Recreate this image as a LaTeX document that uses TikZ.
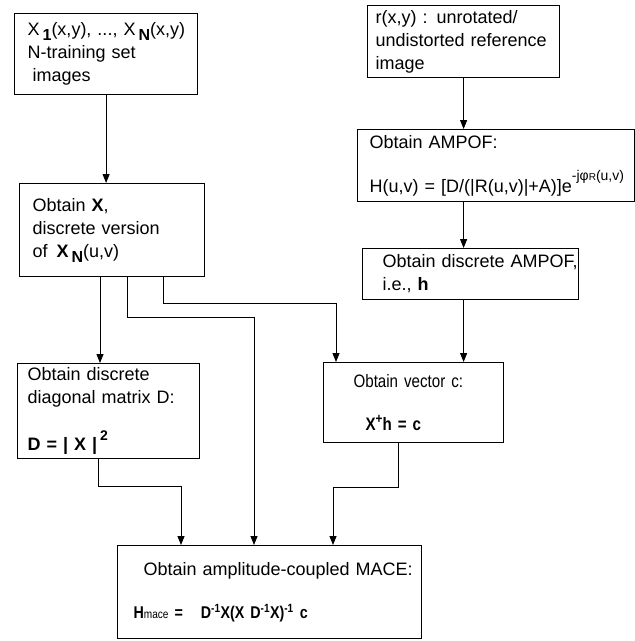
\documentclass[tikz,border=0pt]{standalone}
\usepackage{fontspec}
\setmainfont{Liberation Sans}
\newfontfamily\narrowfont[FakeStretch=0.84]{Liberation Sans}
\usetikzlibrary{arrows.meta}
\def\lo#1{\raisebox{-5pt}{\fontsize{16}{16}\selectfont #1}}
\def\hi#1#2{\raisebox{#1pt}{\fontsize{14}{14}\selectfont #2}}

\tikzset{
  box/.style={draw, line width=1.2pt, rectangle, anchor=north west, align=left,
              inner ysep=4pt, font=\fontsize{18}{23}\selectfont},
  flow/.style={line width=0.8pt, -{Triangle[length=9pt,width=7pt]}},
}

\begin{document}
\begin{tikzpicture}[x=1pt,y=-1pt]
\useasboundingbox (0,0) rectangle (635,641);
       \node [box, minimum width=183pt, minimum height=81pt, text width=157pt, inner xsep=13pt] at (14,13) (train)
             {\mbox{X\,\lo{\textbf{1}}(x,y), ..., X\,\lo{\textbf{N}}(x,y)}\\N-training set\\\hspace*{5pt}images};
          \node [box, minimum width=185pt, minimum height=93pt, text width=159pt, inner xsep=13pt] at (19,183) (xver)
             {Obtain \textbf{X},\\discrete version\\of \,\textbf{X\,\lo{N}}(u,v)};
             \node [box, minimum width=182pt, minimum height=93pt, text width=162pt, inner xsep=10pt] at (17,363) (diag)
             {Obtain discrete\\diagonal matrix D:\\[22pt]\textbf{D = | X |}\,\hi{10}{\textbf{2}}};
%
                \node [box, minimum width=192pt, minimum height=72pt, text width=176pt, inner xsep=8pt] at (367,5) (ref)
             {r(x,y) : unrotated/\\\mbox{undistorted reference}\\image};
                \node [box, minimum width=277pt, minimum height=72pt, text width=253pt, inner xsep=12pt] at (357,129) (ampof)
             {Obtain AMPOF:\\[21pt]\mbox{H(u,v) = [D/(|R(u,v)|+A)]e\hi{12}{-jφ{\fontsize{10}{10}\selectfont R}(u,v)}}};
                  \node [box, minimum width=216pt, minimum height=51pt, text width=176pt, inner xsep=20pt] at (362,248) (dampof)
             {\mbox{Obtain discrete AMPOF,}\\i.e., \textbf{h}};
                   \node [box, minimum width=180pt, minimum height=80pt, text width=156pt, inner xsep=12pt] at (323,362) (vecc)
             {\narrowfont\hspace*{18pt}Obtain vector c:\\[20pt]\hspace*{30pt}\textbf{X\hi{7}{+}h = c}};
%
             \node [box, minimum width=304pt, minimum height=93pt, text width=272pt, inner xsep=16pt] at (117,545) (mace)
             {\mbox{\hspace*{10pt}Obtain amplitude-coupled MACE:}\\[20pt]%
              \mbox{\narrowfont\bfseries\fontsize{17}{17}\selectfont H{\mdseries\fontsize{12}{12}\selectfont mace} =\hspace{18pt}D\textsuperscript{-1}X(X D\textsuperscript{-1}X)\textsuperscript{-1} c}};
%
%
\draw [flow] (train.south) -- (train.south |- xver.north);
\draw [flow] (ref.south) -- (ref.south |- ampof.north);
\draw [flow] (ref.south |- ampof.south) -- (ref.south |- dampof.north);
\draw [flow] (ref.south |- dampof.south) -- (ref.south |- vecc.north);
\draw [flow] (100,0 |- xver.south) -- (100,0 |- diag.north);
\draw [flow] (127,0 |- xver.south) |- (254,317) -- (254,0 |- mace.north);
\draw [flow] (163,0 |- xver.south) |- (336,303) -- (336,0 |- vecc.north);
\draw [flow] (98,0 |- diag.south) |- (181,486) -- (181,0 |- mace.north);
\draw [flow] (398,0 |- vecc.south) |- (333,487) -- (333,0 |- mace.north);

\end{tikzpicture}
\end{document}
